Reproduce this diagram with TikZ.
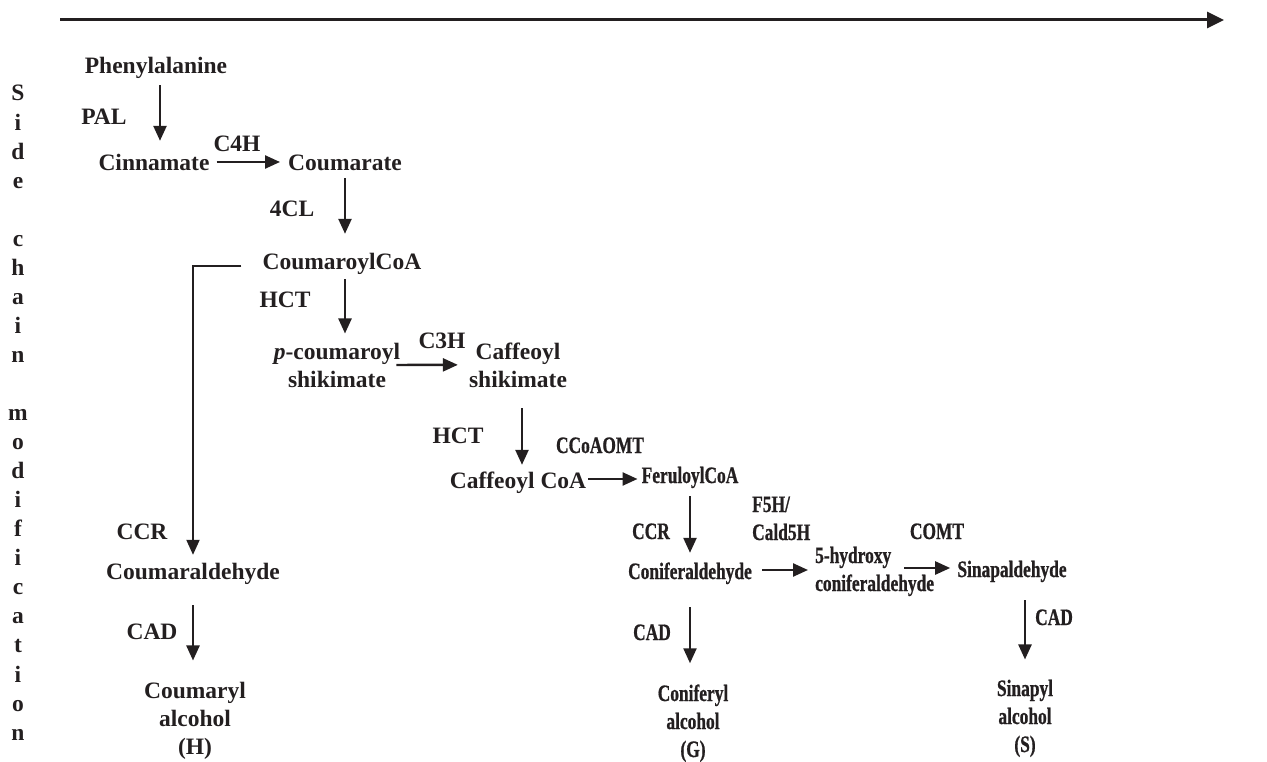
\documentclass[tikz,border=0pt]{standalone}
\usepackage{fontspec}
\setmainfont{Liberation Serif}
\newfontfamily\narrowfont{Liberation Serif Bold}[FakeStretch=0.74,FakeBold=0.8]
\usetikzlibrary{arrows.meta}
\definecolor{ink}{HTML}{231F20}
\tikzset{>={Triangle[length=15pt,width=13pt]}}
\tikzstyle{flow}=[->,draw=ink,line width=2.4pt]
\tikzstyle{txt}=[text=ink,inner sep=0pt,font=\fontsize{23.5}{28}\selectfont\bfseries]
\tikzstyle{chem}=[txt,anchor=base,text height=20pt,text depth=2pt]
\tikzstyle{multi}=[txt,anchor=base,align=center]
\tikzstyle{enz}=[chem]
\tikzstyle{narrow}=[font=\fontsize{23.5}{28}\selectfont\narrowfont]

\begin{document}
\begin{tikzpicture}[x=1pt,y=-1pt]
\useasboundingbox (0,0) rectangle (1267,762);

% time axis
\coordinate (axisstart) at (60,20);
\coordinate (axisend) at (1224,20);
\draw[draw=ink,line width=3pt,-{Triangle[length=17pt,width=16pt]}] (axisstart) -- (axisend);

% side chain label, one letter per line
\foreach \ch [count=\i] in {S,i,d,e,{},c,h,a,i,n,{},m,o,d,i,f,i,c,a,t,i,o,n}
  \node[txt,anchor=base] (side\i) at (18,{101+29.05*(\i-1)}) {\ch};

% compounds (multi-line nodes sit on their last line)
\node[chem] (phe) at (156,74) {Phenylalanine};
\node[chem] (cin) at (154,171) {Cinnamate};
\node[chem] (coum) at (345,171) {Coumarate};
\node[chem] (coa) at (342,270) {CoumaroylCoA};
\node[multi] (pcs) at (337,387) {\textit{p}-coumaroyl\\shikimate};
\node[multi] (cafs) at (518,387) {Caffeoyl\\shikimate};
\node[chem] (cafcoa) at (518,488) {Caffeoyl CoA};
\node[chem,narrow] (fer) at (690,483) {FeruloylCoA};
\node[chem,narrow] (conald) at (690,579) {Coniferaldehyde};
\node[multi,narrow,align=left,anchor=base west] (hyd) at (815,591) {5-hydroxy\\coniferaldehyde};
\node[chem,narrow] (sinald) at (1012,577) {Sinapaldehyde};
\node[chem] (coumald) at (193,579) {Coumaraldehyde};
\node[multi] (coumal) at (195,754) {Coumaryl\\alcohol\\(H)};
\node[multi,narrow] (conal) at (693,757) {Coniferyl\\alcohol\\(G)};
\node[multi,narrow] (sinal) at (1025,752) {Sinapyl\\alcohol\\(S)};

% enzymes
\node[enz] (pal) at (104,125) {PAL};
\node[enz] (c4h) at (237,152) {C4H};
\node[enz] (fourcl) at (292,217) {4CL};
\node[enz] (hct1) at (285,308) {HCT};
\node[enz] (c3h) at (442,348) {C3H};
\node[enz] (hct2) at (458,443) {HCT};
\node[enz,narrow] (ccoaomt) at (600,453) {CCoAOMT};
\node[enz] (ccr1) at (142,539) {CCR};
\node[enz,narrow] (ccr2) at (651,539) {CCR};
\node[multi,narrow,align=left,anchor=base west] (f5h) at (752,540) {F5H/\\Cald5H};
\node[enz,narrow] (comt) at (937,539) {COMT};
\node[enz] (cad1) at (152,639) {CAD};
\node[enz,narrow] (cad2) at (652,640) {CAD};
\node[enz,narrow,anchor=base west] (cad3) at (1035,625) {CAD};

% reactions
\draw[flow,shorten <=9pt,shorten >=10pt] ([xshift=4pt]phe.south) -- ([xshift=4pt]phe.south |- cin.north);
\draw[flow,shorten <=7pt,shorten >=8pt] (cin.east) -- (coum.west);
\draw[flow,shorten <=5pt,shorten >=16pt] (coum.south) -- (coum.south |- coa.north);
\draw[flow,shorten <=7pt,shorten >=9pt] ([xshift=3pt]coa.south) -- ([xshift=3pt]coa.south |- pcs.north);
\draw[flow,shorten <=-4pt,shorten >=11pt] (pcs.east) -- (cafs.west);
\draw[flow,shorten <=21pt,shorten >=3pt] ([xshift=4pt]cafs.south) -- ([xshift=4pt]cafs.south |- cafcoa.north);
\draw[flow,shorten <=2pt,shorten >=4pt] (cafcoa.east) -- (cafcoa.east -| fer.west);
\draw[flow,shorten <=11pt,shorten >=6pt] (fer.south) -- (fer.south |- conald.north);
\draw[flow,shorten <=10pt,shorten >=7pt] (conald.east) -- (conald.east -| hyd.west);
\draw[flow,shorten <=-30pt,shorten >=7pt] (sinald.west -| hyd.east) -- (sinald.west);
\draw[flow,shorten <=21pt,shorten >=20pt] (sinal.north |- sinald.south) -- (sinal.north);
\draw[flow,shorten <=26pt,shorten >=21pt] (conald.south) -- (conald.south |- conal.north);
\draw[flow,shorten <=24pt,shorten >=21pt] (coumald.south) -- (coumald.south |- coumal.north);
\draw[flow,line width=2pt,shorten <=21pt,shorten >=4pt] ([yshift=-5pt]coa.west) -| (coumald.north);

\end{tikzpicture}
\end{document}
